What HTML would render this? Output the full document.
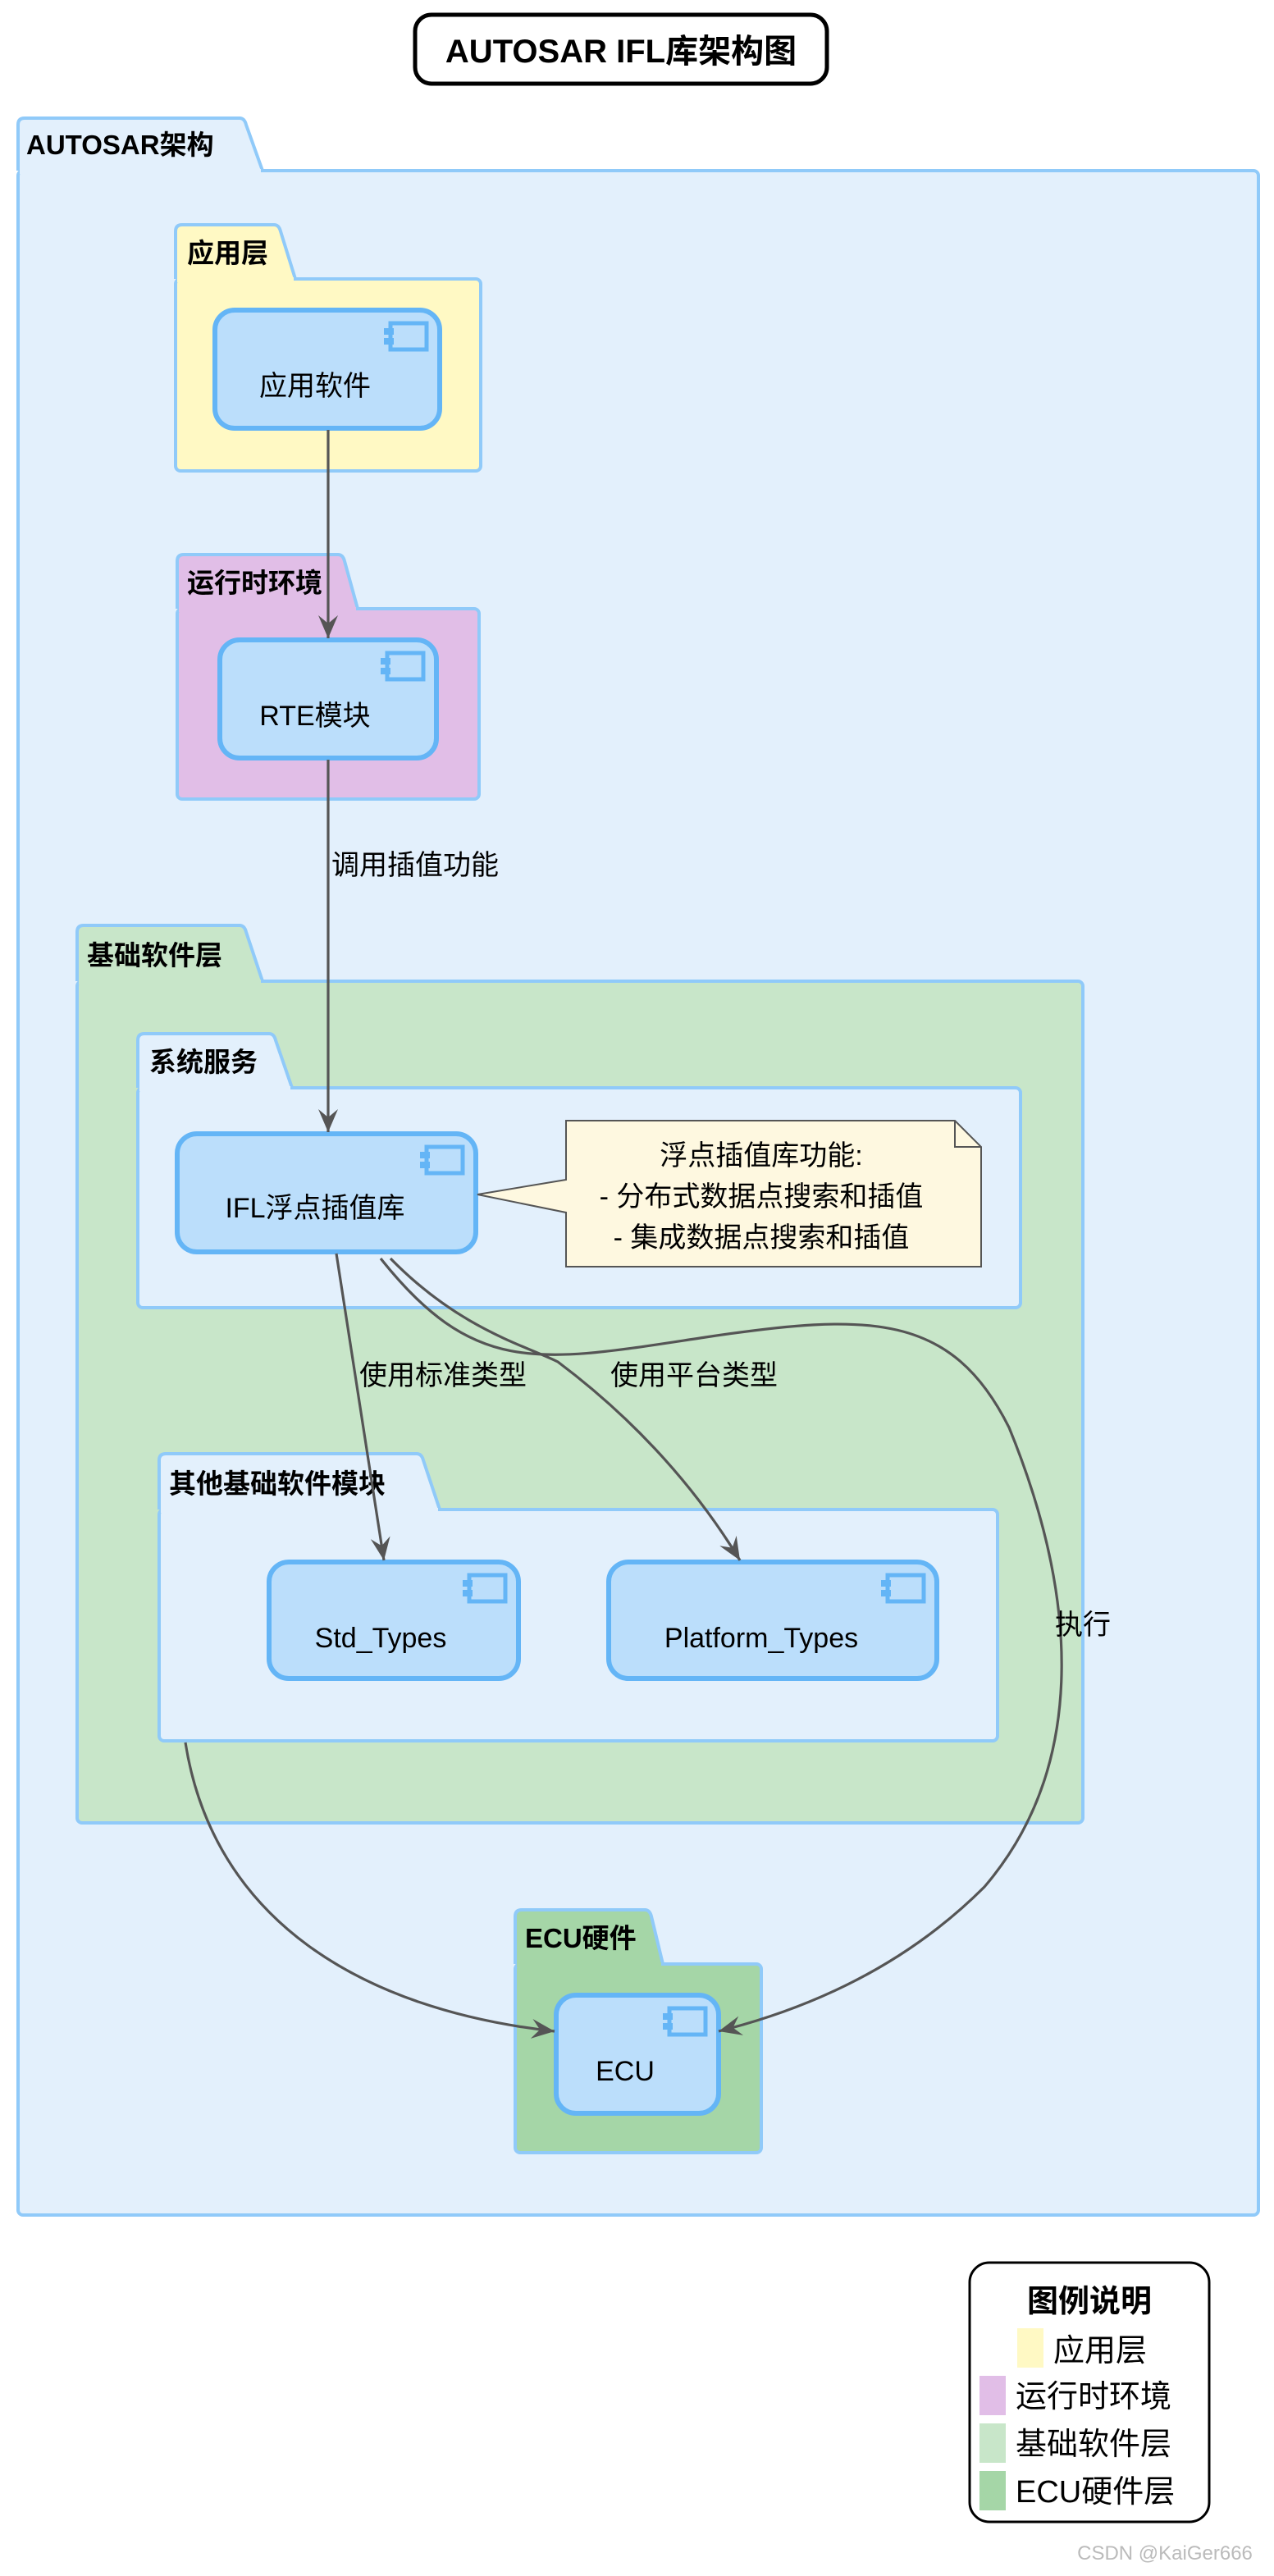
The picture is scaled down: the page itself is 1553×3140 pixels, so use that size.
<!DOCTYPE html>
<html><head><meta charset="utf-8"><style>
html,body{margin:0;padding:0;background:#fff;}
svg{display:block;}
text{font-family:"Liberation Sans","Noto Sans CJK SC",sans-serif;fill:#000;}
.b{font-weight:bold;font-size:16.5px;}
.n{font-size:17px;}
.pk{stroke:#90CAF9;stroke-width:2;}
.nd{fill:#BBDEFB;stroke:#64B5F6;stroke-width:3;}
.ln{fill:none;stroke:#555;stroke-width:1.6;}
</style></head><body>
<svg width="1553" height="3140" viewBox="0 0 776.5 1570" xmlns="http://www.w3.org/2000/svg">
<defs>
<marker id="ar" markerWidth="16" markerHeight="14" refX="14" refY="7" orient="auto" markerUnits="userSpaceOnUse">
<path d="M0,1 L14,7 L0,13 L5,7 Z" fill="#555"/></marker>
<g id="ic"><rect x="4" y="1" width="22" height="16" fill="#BBDEFB" stroke="#64B5F6" stroke-width="2.5"/><rect x="0" y="4" width="6" height="4" fill="#64B5F6"/><rect x="0" y="10" width="6" height="4" fill="#64B5F6"/></g>
</defs>

<rect x="253" y="9" width="251" height="42" rx="10" fill="#fff" stroke="#000" stroke-width="2.5"/>
<text x="378.5" y="38" text-anchor="middle" font-weight="bold" font-size="20">AUTOSAR IFL库架构图</text>

<path class="pk" d="M11,104 L11,76 Q11,72 15,72 L146,72 Q149,72 150,76 L160,104" fill="#E3F0FC"/>
<rect class="pk" x="11" y="104" width="756" height="1246" rx="3" fill="#E3F0FC"/>
<rect x="12" y="103" width="147" height="3" fill="#E3F0FC"/>
<text class="b" x="16" y="94">AUTOSAR架构</text>

<path class="pk" d="M107,170 L107,141 Q107,137 111,137 L167,137 Q170,137 171,141 L180,170" fill="#FFF9C4"/>
<rect class="pk" x="107" y="170" width="186" height="117" rx="3" fill="#FFF9C4"/>
<rect x="108" y="169" width="71" height="3" fill="#FFF9C4"/>
<text class="b" x="114" y="160">应用层</text>
<rect class="nd" x="131" y="189" width="137" height="72" rx="12"/>
<use href="#ic" x="234" y="196"/>
<text class="n" x="192" y="241" text-anchor="middle">应用软件</text>

<path class="pk" d="M108,371 L108,342 Q108,338 112,338 L206,338 Q209,338 210,342 L218,371" fill="#E1BEE7"/>
<rect class="pk" x="108" y="371" width="184" height="116" rx="3" fill="#E1BEE7"/>
<rect x="109" y="370" width="108" height="3" fill="#E1BEE7"/>
<text class="b" x="114" y="361">运行时环境</text>
<rect class="nd" x="134" y="390" width="132" height="72" rx="12"/>
<use href="#ic" x="232" y="397"/>
<text class="n" x="192" y="442" text-anchor="middle">RTE模块</text>

<path class="pk" d="M47,598 L47,568 Q47,564 51,564 L146,564 Q149,564 150,568 L160,598" fill="#C8E6C9"/>
<rect class="pk" x="47" y="598" width="613" height="513" rx="3" fill="#C8E6C9"/>
<rect x="48" y="597" width="111" height="3" fill="#C8E6C9"/>
<text class="b" x="53" y="588">基础软件层</text>

<path class="pk" d="M84,663 L84,634 Q84,630 88,630 L164,630 Q167,630 168,634 L178,663" fill="#E3F0FC"/>
<rect class="pk" x="84" y="663" width="538" height="134" rx="3" fill="#E3F0FC"/>
<rect x="85" y="662" width="92" height="3" fill="#E3F0FC"/>
<text class="b" x="91" y="653">系统服务</text>
<rect class="nd" x="108" y="691" width="182" height="72" rx="12"/>
<use href="#ic" x="256" y="698"/>
<text class="n" x="192" y="742" text-anchor="middle">IFL浮点插值库</text>

<path d="M345,683 L582,683 L598,699 L598,772 L345,772 L345,739 L291,728 L345,719 Z" fill="#FEF8E0" stroke="#555" stroke-width="1"/>
<path d="M582,683 L582,699 L598,699" fill="none" stroke="#555" stroke-width="1"/>
<text class="n" x="464" y="710" text-anchor="middle">浮点插值库功能:</text>
<text class="n" x="464" y="735" text-anchor="middle">- 分布式数据点搜索和插值</text>
<text class="n" x="464" y="760" text-anchor="middle">- 集成数据点搜索和插值</text>

<path class="pk" d="M97,920 L97,890 Q97,886 101,886 L254,886 Q257,886 258,890 L268,920" fill="#E3F0FC"/>
<rect class="pk" x="97" y="920" width="511" height="141" rx="3" fill="#E3F0FC"/>
<rect x="98" y="919" width="169" height="3" fill="#E3F0FC"/>
<text class="b" x="103" y="910">其他基础软件模块</text>
<rect class="nd" x="164" y="952" width="152" height="71" rx="12"/>
<use href="#ic" x="282" y="959"/>
<text class="n" x="232" y="1004" text-anchor="middle">Std_Types</text>
<rect class="nd" x="371" y="952" width="200" height="71" rx="12"/>
<use href="#ic" x="537" y="959"/>
<text class="n" x="464" y="1004" text-anchor="middle">Platform_Types</text>

<path class="pk" d="M314,1197 L314,1168 Q314,1164 318,1164 L393,1164 Q396,1164 397,1168 L404,1197" fill="#A5D6A7"/>
<rect class="pk" x="314" y="1197" width="150" height="115" rx="3" fill="#A5D6A7"/>
<rect x="315" y="1196" width="88" height="3" fill="#A5D6A7"/>
<text class="b" x="320" y="1187">ECU硬件</text>
<rect class="nd" x="339" y="1216" width="99" height="72" rx="12"/>
<use href="#ic" x="404" y="1223"/>
<text class="n" x="381" y="1268" text-anchor="middle">ECU</text>

<line class="ln" x1="200" y1="262" x2="200" y2="389" marker-end="url(#ar)"/>
<line class="ln" x1="200" y1="463" x2="200" y2="690" marker-end="url(#ar)"/>
<text class="n" x="202" y="533">调用插值功能</text>
<path class="ln" d="M205,764 L234,951" marker-end="url(#ar)"/>
<text class="n" x="219" y="844">使用标准类型</text>
<path class="ln" d="M238,767 C280,810 320,820 340,830 C380,860 420,900 451,951" marker-end="url(#ar)"/>
<text class="n" x="372" y="844">使用平台类型</text>
<path class="ln" d="M232,767 C290,840 330,830 430,815 C530,800 580,800 615,870 C660,980 660,1080 600,1150 C550,1200 490,1225 438,1238" marker-end="url(#ar)"/>
<text class="n" x="643" y="996">执行</text>
<path class="ln" d="M113,1062 C130,1170 220,1225 338,1238" marker-end="url(#ar)"/>

<rect x="591" y="1379" width="146" height="158" rx="12" fill="#fff" stroke="#000" stroke-width="1.5"/>
<text x="664" y="1409" text-anchor="middle" font-weight="bold" font-size="19">图例说明</text>
<rect x="620" y="1419" width="16" height="24" fill="#FFF9C4"/>
<text x="642" y="1439" font-size="19">应用层</text>
<rect x="597" y="1448" width="16" height="24" fill="#E1BEE7"/>
<text x="619" y="1467" font-size="19">运行时环境</text>
<rect x="597" y="1477" width="16" height="24" fill="#C8E6C9"/>
<text x="619" y="1496" font-size="19">基础软件层</text>
<rect x="597" y="1506" width="16" height="24" fill="#A5D6A7"/>
<text x="619" y="1525" font-size="19">ECU硬件层</text>

<text x="710" y="1560" text-anchor="middle" font-size="12" style="fill:#bbb">CSDN @KaiGer666</text>
</svg>
</body></html>
